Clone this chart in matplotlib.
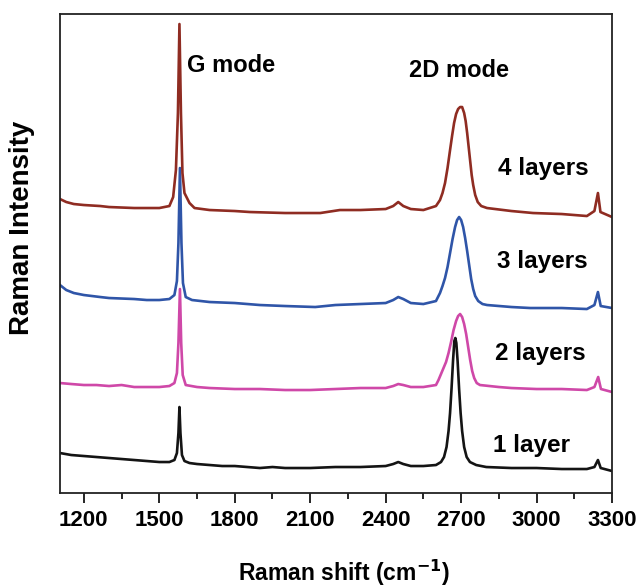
import matplotlib
matplotlib.use("Agg")
import matplotlib.pyplot as plt
from matplotlib.ticker import MultipleLocator

plt.rcParams["font.family"] = ["Liberation Sans", "DejaVu Sans"]
plt.rcParams["font.weight"] = "bold"

# Raman spectra of graphene stacks, offset vertically (shift in cm^-1, intensity a.u.)
shift_1l = [1105, 1150, 1200, 1250, 1300, 1350, 1400, 1450, 1500, 1540, 1560, 1570,
            1576, 1580, 1584, 1590, 1600, 1620, 1650, 1700, 1750, 1800, 1850, 1900,
            1950, 2000, 2100, 2200, 2300, 2400, 2430, 2450, 2470, 2500, 2550, 2600,
            2620, 2632, 2642, 2650, 2656, 2662, 2668, 2673, 2677, 2681, 2686, 2692,
            2698, 2704, 2712, 2722, 2735, 2760, 2800, 2900, 3000, 3100, 3200, 3230,
            3244, 3255, 3300]
inten_1l = [40, 38, 37, 36, 35, 34, 33, 32, 31, 31, 33, 40,
            60, 86, 60, 38, 32, 30, 29, 28, 27, 27, 26, 25,
            26, 25, 25, 26, 26, 27, 29, 31, 29, 27, 27, 28,
            31, 36, 46, 62, 80, 105, 133, 152, 155, 150, 132, 104,
            80, 62, 46, 36, 31, 28, 26, 25, 25, 24, 24, 26,
            33, 25, 22]

shift_2l = [1105, 1150, 1200, 1250, 1300, 1350, 1400, 1450, 1500, 1540, 1560, 1570,
            1576, 1582, 1587, 1593, 1605, 1650, 1700, 1800, 1900, 2000, 2100, 2200,
            2300, 2400, 2430, 2450, 2470, 2500, 2550, 2600, 2610, 2620, 2630, 2640,
            2650, 2660, 2670, 2680, 2688, 2696, 2704, 2712, 2720, 2728, 2736, 2744,
            2752, 2762, 2775, 2850, 2900, 3000, 3100, 3200, 3230, 3245, 3256, 3300]
inten_2l = [110, 109, 108, 108, 107, 108, 106, 106, 106, 107, 110, 120,
            150, 204, 150, 118, 108, 106, 105, 104, 104, 103, 103, 104,
            105, 105, 107, 109, 108, 106, 106, 108, 113, 119, 125, 131,
            140, 151, 163, 172, 177, 179, 176, 169, 159, 146, 133, 122,
            115, 110, 108, 106, 105, 104, 104, 103, 106, 116, 104, 101]

shift_3l = [1105, 1130, 1160, 1200, 1265, 1300, 1400, 1450, 1500, 1540, 1560, 1570,
            1576, 1582, 1588, 1594, 1605, 1630, 1700, 1800, 1900, 2000, 2120, 2200,
            2300, 2400, 2430, 2450, 2470, 2500, 2550, 2600, 2616, 2626, 2636, 2646,
            2656, 2666, 2676, 2684, 2692, 2700, 2708, 2716, 2724, 2732, 2740, 2748,
            2756, 2768, 2785, 2803, 2900, 2975, 3100, 3200, 3230, 3244, 3255, 3300]
inten_3l = [208, 203, 200, 198, 196, 195, 194, 193, 193, 194, 198, 212,
            250, 325, 250, 210, 196, 193, 191, 190, 188, 187, 186, 188,
            189, 190, 193, 196, 194, 190, 189, 192, 200, 207, 215, 226,
            240, 254, 266, 273, 276, 273, 266, 255, 242, 228, 214, 204,
            197, 192, 189, 188, 186, 185, 185, 184, 188, 201, 187, 185]

shift_4l = [1105, 1130, 1160, 1200, 1265, 1300, 1400, 1500, 1540, 1555, 1566, 1574,
            1580, 1586, 1592, 1600, 1620, 1640, 1700, 1800, 1860, 2000, 2140, 2218,
            2300, 2400, 2430, 2450, 2470, 2500, 2550, 2600, 2616, 2626, 2636, 2646,
            2656, 2664, 2672, 2680, 2688, 2696, 2704, 2712, 2718, 2724, 2730, 2736,
            2742, 2748, 2756, 2766, 2780, 2803, 2900, 2986, 3100, 3200, 3230, 3244,
            3254, 3300]
inten_4l = [294, 291, 289, 288, 287, 286, 285, 285, 287, 296, 323, 380,
            469, 380, 320, 300, 290, 285, 283, 282, 281, 280, 280, 283,
            283, 284, 287, 291, 287, 284, 283, 287, 293, 300, 310, 325,
            343, 357, 370, 379, 384, 386, 386, 380, 372, 360, 346, 332,
            318, 308, 298, 291, 287, 285, 282, 280, 279, 277, 282, 300,
            281, 276]

layer_labels = ["1 layer", "2 layers", "3 layers", "4 layers"]
layer_colors = ["#141414", "#cf48a8", "#2f55a8", "#8f2c22"]
label_pos = [(2827, 48), (2835, 140), (2843, 232), (2847, 325)]

fig = plt.figure(figsize=(6.36, 5.87), dpi=100)
ax = fig.add_axes([0.0943, 0.1601, 0.868, 0.816])

spectra = [(shift_1l, inten_1l), (shift_2l, inten_2l),
           (shift_3l, inten_3l), (shift_4l, inten_4l)]
for (x, y), c in zip(spectra, layer_colors):
    ax.plot(x, y, color=c, lw=1.9, solid_joinstyle="round")

for text, (x, y) in zip(layer_labels, label_pos):
    ax.text(x, y, text, fontsize=17.5, fontweight="bold", ha="left", va="center")

ax.text(1610, 428, "G mode", fontsize=17, fontweight="bold", ha="left", va="center")
ax.text(2691, 423, "2D mode", fontsize=17, fontweight="bold", ha="center", va="center")

ax.set_xlim(1105, 3300)
ax.set_ylim(0, 479)
ax.xaxis.set_major_locator(MultipleLocator(300))
ax.xaxis.set_minor_locator(MultipleLocator(150))
ax.set_yticks([])
ax.tick_params(axis="x", which="major", direction="out", length=7, width=1.2,
               labelsize=16, pad=5)
ax.tick_params(axis="x", which="minor", direction="out", length=4.5, width=1.2)
for lbl in ax.get_xticklabels():
    lbl.set_fontweight("bold")
for sp in ax.spines.values():
    sp.set_linewidth(1.3)
    sp.set_color("#222222")

fig.text(0.541, 0.024, "Raman shift (cm$^{\\mathbf{-1}}$)", fontsize=16.5,
         fontweight="bold", ha="center", va="center")
fig.text(0.035, 0.612, "Raman Intensity", fontsize=20, fontweight="bold",
         rotation=90, ha="center", va="center")

fig.savefig("out.png", dpi=100)
